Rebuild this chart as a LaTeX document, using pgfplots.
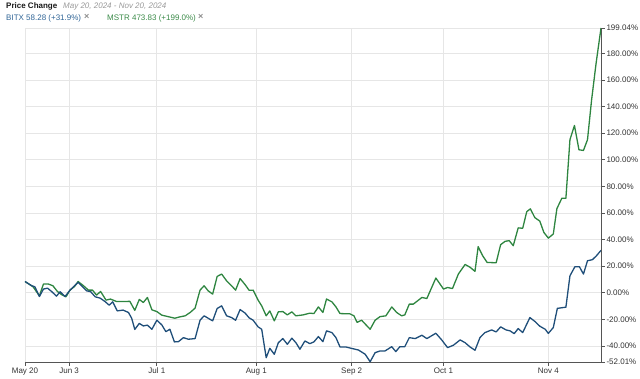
\documentclass[border=0pt]{standalone}
\usepackage{fontspec}
\setmainfont{Liberation Sans}
\usepackage{pgfplots}
\usepackage{pgfplotstable}
\pgfplotsset{compat=1.18}
\definecolor{bitx}{HTML}{1F4E79}
\definecolor{mstr}{HTML}{2E8540}
\definecolor{bitxt}{HTML}{2F6496}
\definecolor{mstrt}{HTML}{3A8A48}
\definecolor{gridc}{HTML}{E6E6E6}
\definecolor{axc}{HTML}{555555}

\pgfplotstableread{
x y
0 8.5
1.5 5.3
2.2 4.5
3.2 -2.8
4.1 2.8
5.0 3.5
5.9 1.0
7.0 -2.5
7.8 0.8
8.9 -2.8
10.0 2.0
11.0 5.3
11.8 7.8
12.8 4.5
13.7 1.5
14.6 0.8
15.6 -3.0
16.7 -4.0
17.8 -6.6
18.7 -9.3
19.5 -6.8
20.5 -13.6
21.8 -13.0
23.0 -14.8
23.7 -19.1
24.4 -27.5
25.4 -23.0
26.3 -24.9
27.2 -24.3
28.2 -27.4
29.3 -20.6
30.4 -24.1
31.3 -29.2
32.2 -27.4
33.2 -36.9
34.1 -36.7
35.2 -33.7
36.3 -34.9
37.8 -34.4
38.9 -20.6
39.8 -17.3
40.7 -19.1
41.7 -21.1
42.7 -11.8
43.7 -9.8
44.8 -17.3
45.9 -18.6
46.8 -20.6
47.8 -12.6
48.9 -15.2
49.8 -18.8
50.7 -20.6
51.8 -25.6
52.6 -27.4
53.6 -48.8
54.4 -41.7
55.4 -46.2
56.3 -37.5
57.3 -34.4
58.3 -38.7
59.3 -34.1
60.2 -37.5
61.1 -42.4
62.2 -36.2
63.3 -38.2
64.2 -36.9
65.2 -32.9
66.2 -36.7
67.0 -28.6
68.2 -29.9
69.1 -33.7
70.0 -40.7
71.3 -40.7
72.6 -41.8
74.1 -43.0
75.6 -46.2
76.7 -51.8
77.8 -45.0
78.9 -43.7
80.0 -43.7
81.5 -40.5
82.4 -44.2
83.3 -40.5
84.4 -40.5
85.4 -33.7
86.7 -34.4
88.2 -31.9
89.3 -34.4
91.3 -30.4
92.6 -35.4
93.9 -41.2
95.2 -39.4
96.7 -35.4
97.8 -37.5
98.9 -40.7
100.0 -43.2
101.1 -33.7
102.2 -29.9
103.7 -27.9
104.7 -29.4
105.7 -25.6
106.9 -27.9
107.8 -28.6
108.7 -30.7
109.6 -26.9
110.6 -29.9
112.2 -18.6
113.3 -21.5
114.4 -25.1
115.6 -27.4
116.3 -30.5
117.4 -26.1
118.3 -11.7
120.2 -10.8
121.1 12.8
122.2 19.6
123.2 19.6
124.1 14.1
125.0 24.1
126.1 24.9
127.0 27.9
128 31.9
}\bitxdata

\pgfplotstableread{
x y
0 8.5
1.8 4.5
3.2 -2.3
4.1 6.6
5.2 6.6
6.2 5.3
7.2 1.0
8.2 -1.5
9.1 -3.0
10.0 2.0
11.0 4.7
11.8 8.5
13.0 5.3
14.1 2.0
15.0 2.0
15.9 -1.7
16.8 1.0
18.0 -5.5
19.0 -4.7
20.4 -6.6
21.8 -6.6
23.3 -6.4
24.4 -13.2
25.4 -5.0
26.3 -7.3
27.2 -3.5
28.2 -12.8
29.3 -14.1
30.4 -16.8
31.8 -17.9
33.3 -19.1
34.4 -18.1
35.6 -17.3
36.7 -14.8
37.8 -11.5
38.9 2.0
39.8 5.3
40.7 1.5
41.7 -1.0
42.7 12.3
43.7 14.1
44.8 9.0
45.9 5.3
46.8 2.0
47.8 10.7
48.9 6.2
49.8 1.9
50.7 2.0
51.8 -5.5
52.6 -9.8
53.6 -17.3
54.4 -13.6
55.4 -21.1
56.3 -14.3
57.3 -14.1
58.3 -16.6
59.3 -14.3
60.2 -17.3
61.8 -16.6
63.3 -15.3
64.2 -15.6
65.2 -10.6
66.2 -14.8
67.0 -4.7
68.2 -6.8
69.1 -10.6
70.0 -15.6
72.2 -15.8
73.1 -17.3
73.8 -22.2
74.8 -20.6
76.7 -27.4
77.8 -20.6
78.9 -17.9
80.2 -17.3
81.5 -10.6
82.6 -14.8
83.7 -17.3
84.4 -16.6
85.4 -8.5
86.3 -8.5
88.2 -3.5
89.3 -4.3
91.3 11.1
93.0 2.8
93.9 4.0
95.0 3.2
96.3 14.1
97.8 21.3
98.9 19.2
100.0 16.1
100.7 34.7
101.7 27.9
102.7 22.8
104.7 22.6
105.7 36.2
106.7 38.7
107.6 39.2
108.5 35.4
109.6 48.8
110.6 48.5
111.5 61.0
112.3 63.1
113.3 56.5
114.4 53.9
115.3 45.4
116.3 41.1
117.4 44.2
118.2 63.3
119.3 71.1
120.2 71.1
121.1 115.1
122.1 125.8
123.1 107.5
124.1 107.0
125.0 115.1
125.9 144.7
126.9 172.3
128 199.04
}\mstrdata

\begin{document}
\begin{tikzpicture}
\begin{axis}[
  scale only axis, width=576pt, height=334pt,
  xmin=0, xmax=128, ymin=-52.01, ymax=199.04,
  axis x line*=bottom, axis y line*=right,
  axis line style={axc, line width=1pt},
  xtick={0,9.8,29.3,51.4,72.6,93.0,116.3},
  xticklabels={May 20,Jun 3,Jul 1,Aug 1,Sep 2,Oct 1,Nov 4},
  ytick={-52.01,-40,-20,0,20,40,60,80,100,120,140,160,180,199.04},
  yticklabels={-52.01\%,-40.00\%,-20.00\%,0.00\%,20.00\%,40.00\%,60.00\%,80.00\%,100.00\%,120.00\%,140.00\%,160.00\%,180.00\%,199.04\%},
  grid=major, major grid style={gridc, line width=0.8pt},
  tick align=outside, major tick length=3.5pt,
  tick style={axc, line width=0.8pt},
  ticklabel style={font=\fontsize{8}{9}\selectfont, text=black!80},
  yticklabel style={xshift=-1.5pt},
  xticklabel style={yshift=1pt},
]
\addplot[mstr, line width=1.3pt, line join=round] table {\mstrdata};
\addplot[bitx, line width=1.3pt, line join=round] table {\bitxdata};
\coordinate (sw) at (rel axis cs:0,0);
\coordinate (ne) at (rel axis cs:1,1);
\end{axis}
\path (sw) ++(-25pt,0) coordinate (L);
\path (ne) ++(0,28pt) coordinate (T);
\path (ne) ++(39pt,0) coordinate (R);
\path (sw) ++(0,-16pt) coordinate (B);
\coordinate (TL) at (L |- T);
\coordinate (BR) at (R |- B);
\node[anchor=west, inner sep=0, font=\bfseries\fontsize{8}{9}\selectfont, text=black!90] at ([shift={(6pt,-6.5pt)}]TL) {Price Change};
\node[anchor=west, inner sep=0, font=\itshape\fontsize{8}{9}\selectfont, text=black!40] at ([shift={(63pt,-6.5pt)}]TL) {May 20, 2024 - Nov 20, 2024};
\node[anchor=west, inner sep=0, font=\fontsize{8}{9}\selectfont, text=bitxt] at ([shift={(6pt,-18.5pt)}]TL) {BITX 58.28 (+31.9\%)};
\node[anchor=west, inner sep=0, font=\bfseries\fontsize{9}{10}\selectfont, text=black!45] at ([shift={(84pt,-17pt)}]TL) {×};
\node[anchor=west, inner sep=0, font=\fontsize{8}{9}\selectfont, text=mstrt] at ([shift={(107pt,-18.5pt)}]TL) {MSTR 473.83 (+199.0\%)};
\node[anchor=west, inner sep=0, font=\bfseries\fontsize{9}{10}\selectfont, text=black!45] at ([shift={(198pt,-17pt)}]TL) {×};
\pgfresetboundingbox
\path[use as bounding box] (TL) rectangle (BR);
\end{tikzpicture}
\end{document}
